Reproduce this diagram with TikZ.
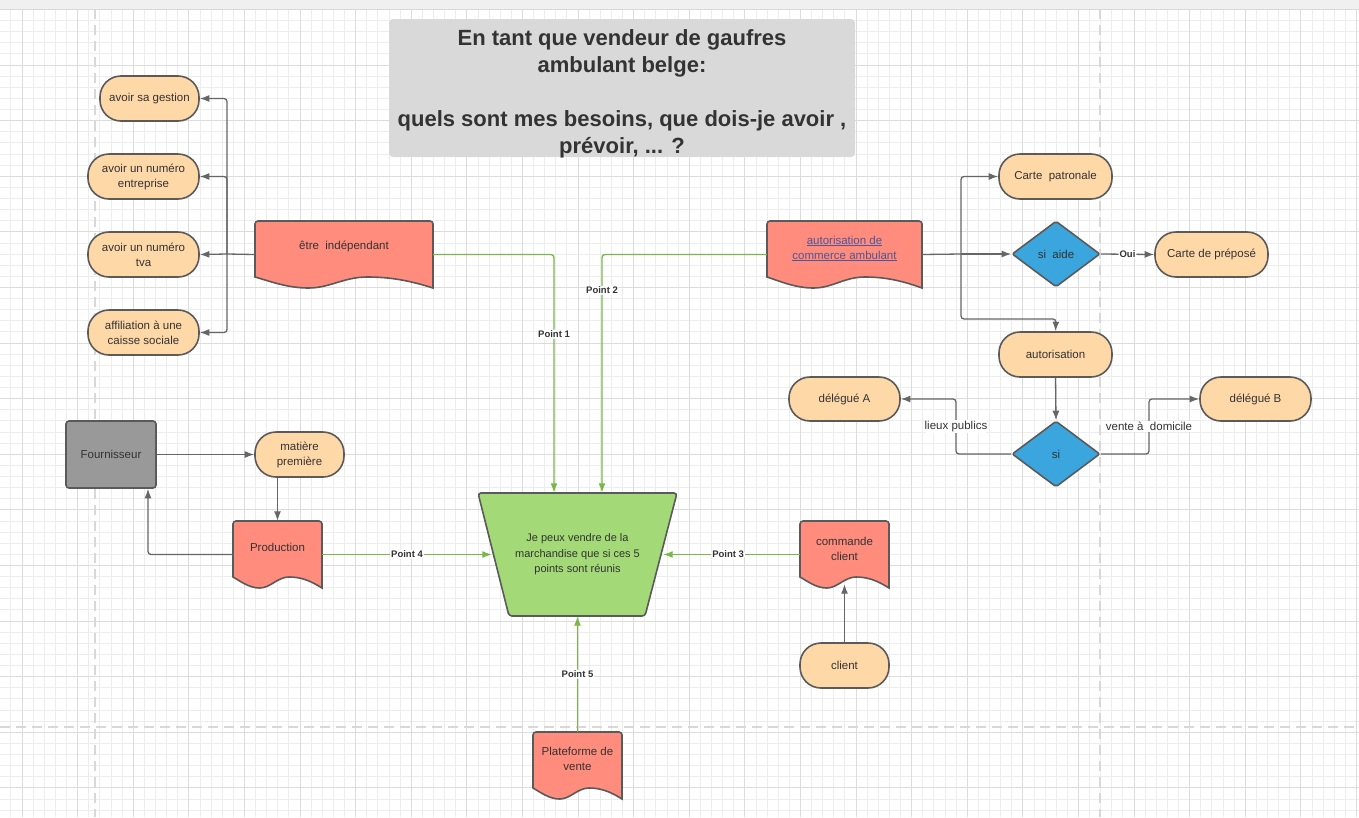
\documentclass[tikz,border=0pt]{standalone}
\usepackage{fontspec}
\setmainfont{Liberation Sans}
\usetikzlibrary{shapes.geometric,arrows.meta,calc}
\definecolor{peach}{HTML}{FFD8A8}
\definecolor{salmon}{HTML}{FF8C7D}
\definecolor{lgreen}{HTML}{A3D977}
\definecolor{blueD}{HTML}{3AA6DD}
\definecolor{edgec}{HTML}{5A5A5A}
\definecolor{connc}{HTML}{666666}
\definecolor{gline}{HTML}{7AB648}
\definecolor{txt}{HTML}{333333}
\definecolor{linkc}{HTML}{4E5598}
\definecolor{gridmin}{HTML}{EDEDED}
\definecolor{gridmaj}{HTML}{DCDCDC}
\definecolor{pagec}{HTML}{D8D8D8}
\definecolor{titlef}{HTML}{D9D9D9}
\definecolor{fourf}{HTML}{999999}
\newcommand\docshape[7]{%
  \filldraw[docsty] ({#2},{#3+#5-11}) [rounded corners=3pt] -- (#2,#3) -- ({#2+#4},#3) [sharp corners] -- ({#2+#4},{#3+#5})
    .. controls ({#2+0.86*#4},{#3+#5-8}) and ({#2+0.75*#4},{#3+#5-11}) .. ({#2+0.63*#4},{#3+#5-11})
    .. controls ({#2+0.5*#4},{#3+#5-11}) and ({#2+0.42*#4},{#3+#5}) .. ({#2+0.3*#4},{#3+#5})
    .. controls ({#2+0.18*#4},{#3+#5}) and ({#2+0.08*#4},{#3+#5-7}) .. ({#2},{#3+#5-11}) -- cycle;
  \node[minimum width=#4pt, minimum height=#5pt, inner sep=0pt] (#1) at ({#2+#4/2},{#3+#5/2}) {};
  \node[align=center, inner sep=0pt] (#1-t) at ({#2+#4/2},{#3+#5/2-#7}) {#6};
}
\begin{document}
\begin{tikzpicture}[x=1pt,y=-1pt, font=\fontsize{11.5}{15}\selectfont, text=txt,
  pill/.style={draw=edgec, line width=1.6pt, fill=peach, rounded corners=21pt, minimum height=45pt, inner sep=2pt, align=center},
  docsty/.style={draw=edgec, line width=1.6pt, fill=salmon},
  dia/.style={diamond, draw=edgec, line width=1.6pt, fill=blueD, minimum width=88pt, minimum height=66pt, inner sep=0pt, aspect=1.333, rounded corners=2pt},
  conn/.style={draw=connc, line width=1.3pt, rounded corners=3pt},
  arr/.style={conn, -{Latex[length=9.5pt,width=7pt]}},
  garr/.style={draw=gline, line width=1.4pt, rounded corners=3pt, -{Latex[length=9.5pt,width=7pt]}},
  ptlbl/.style={font=\bfseries\fontsize{9.5}{11}\selectfont, fill=white, inner sep=1pt, text=txt},
  elbl/.style={font=\fontsize{11.5}{14}\selectfont, fill=white, inner sep=1pt, text=txt},
  gridminor/.style={draw=gridmin, line width=0.8pt},
  gridmajor/.style={draw=gridmaj, line width=1pt},
  pagedash/.style={draw=pagec, line width=2.6pt, dash pattern=on 10pt off 6pt}]
\useasboundingbox (0,0) rectangle (1359,817);
\fill[white] (0,0) rectangle (1359,817);
% grid
\foreach \i in {0,...,121} {\draw[gridminor] ({10.88+11.12*\i},9) -- ({10.88+11.12*\i},817);}
\foreach \i in {0,...,72} {\draw[gridminor] (0,{9.4+11.12*\i}) -- (1359,{9.4+11.12*\i});}
\foreach \i in {0,...,24} {\draw[gridmajor] ({22+55.6*\i},9) -- ({22+55.6*\i},817);}
\foreach \i in {0,...,14} {\draw[gridmajor] (0,{9.4+55.6*\i}) -- (1359,{9.4+55.6*\i});}
\draw[pagedash] (95,9) -- (95,817);
\draw[pagedash] (1100,9) -- (1100,817);
\draw[pagedash] (0,727) -- (1359,727);
\fill[black!6] (0,0) rectangle (1359,9);
\draw[black!15, line width=1pt] (0,9) -- (1359,9);

% title
\node[fill=titlef, rounded corners=4pt, minimum width=466pt, minimum height=138pt] (title) at (622,88) {};
\node[align=center, inner sep=0pt, font=\bfseries\fontsize{22}{27}\selectfont] (title-t) at (622,93.5)
  {En tant que vendeur de gaufres\\ambulant belge:\\[27pt]quels sont mes besoins, que dois-je avoir ,\\prévoir, ... ?};

% left pills
\node[pill, minimum width=99pt] (gestion) at (149.5,98.5) {avoir sa gestion};
\node[pill, minimum width=111pt] (entre) at (143.5,176.5) {avoir un numéro\\entreprise};
\node[pill, minimum width=111pt] (tva) at (143.5,254.5) {avoir un numéro\\tva};
\node[pill, minimum width=111pt] (affil) at (143.5,332.5) {affiliation à une\\caisse sociale};

% documents
\docshape{indep}{255}{221}{178}{67}{être\ \ indépendant}{8}
\docshape{autor}{767}{221}{155}{67}{\color{linkc}\underline{autorisation de}\\\color{linkc}\underline{commerce ambulant}}{6}
\docshape{prod}{233}{521}{89}{67}{Production}{7.5}
\docshape{commande}{800}{521}{89}{67}{commande\\client}{6}
\docshape{plat}{533}{732}{89}{67}{Plateforme de\\vente}{7}

% right side
\node[pill, minimum width=113pt] (carte) at (1055.5,176.5) {Carte\ \ patronale};
\node[dia] (siaide) at (1056,254) {si\ \ aide};
\node[pill, minimum width=113pt] (prepose) at (1211.5,254.5) {Carte de préposé};
\node[pill, minimum width=113pt] (autoris) at (1055.5,354.5) {autorisation};
\node[dia] (si) at (1056,454) {si};
\node[pill, minimum width=111pt, minimum height=44pt] (delA) at (844.5,399) {délégué A};
\node[pill, minimum width=111pt, minimum height=44pt] (delB) at (1255.5,399) {délégué B};

% lower left
\node[draw=edgec, line width=1.6pt, fill=fourf, rounded corners=3pt, minimum width=90pt, minimum height=67pt] (fourn) at (111,454.5) {Fournisseur};
\node[pill, minimum width=89pt] (matiere) at (299.5,454.5) {matière\\première};
\node[pill, minimum width=89pt] (client) at (844.5,665.5) {client};

% trapezoid
\filldraw[draw=edgec, line width=1.6pt, fill=lgreen, rounded corners=3pt] (478,493) -- (677,493) -- (645,616) -- (509,616) -- cycle;
\node[minimum width=199pt, minimum height=123pt, inner sep=0pt, align=center, font=\fontsize{11}{15.5}\selectfont] (trap) at (577.5,554.5) {Je peux vendre de la\\marchandise que si ces 5\\points sont réunis};

% connectors left
\coordinate (busL) at (227,254);
\draw[conn] (indep.west) -- (busL);
\draw[arr] (busL) |- (gestion.east);
\draw[arr] (busL) |- (entre.east);
\draw[arr] (busL) -- (tva.east);
\draw[arr] (busL) |- (affil.east);

% green connectors
\draw[garr] (indep.east) -| node[ptlbl, pos=0.667] {Point 1} ([xshift=-23.5pt]trap.north);
\draw[garr] (autor.west) -| node[ptlbl, pos=0.575] {Point 2} ([xshift=24.5pt]trap.north);
\draw[garr, shorten >=-14pt] (prod.east) -- node[ptlbl, pos=0.545] {Point 4} (trap.west);
\draw[garr, shorten >=-14pt] (commande.west) -- node[ptlbl, pos=0.585] {Point 3} (trap.east);
\draw[garr] (plat.north) -- node[ptlbl, pos=0.5] {Point 5} (trap.south);

% right connectors
\coordinate (busR) at (961,254);
\coordinate (bR) at (1056,319);
\draw[conn] (autor.east) -- (busR);
\draw[arr] (busR) |- (carte.west);
\draw[arr] (busR) -- (siaide.west);
\draw[arr] (busR) |- (bR) -- (autoris.north);
\draw[arr] (siaide.east) -- node[ptlbl] {Oui} (prepose.west);
\draw[arr] (autoris.south) -- (si.north);
\coordinate (bA) at (956,399);
\coordinate (bB) at (1149,399);
\draw[arr] (si.west) -| node[elbl, pos=0.75] {lieux publics} (bA) -- (delA.east);
\draw[arr] (si.east) -| node[elbl, pos=0.75] {vente à\ \ domicile} (bB) -- (delB.west);

% lower left connectors
\draw[arr] (fourn.east) -- (matiere.west);
\draw[arr] (prod.north |- matiere.south) -- (prod.north);
\draw[arr] (prod.west) -| ([xshift=37pt]fourn.south);
\draw[arr] (client.north) -- ([yshift=4pt]commande.south);
\end{tikzpicture}
\end{document}
